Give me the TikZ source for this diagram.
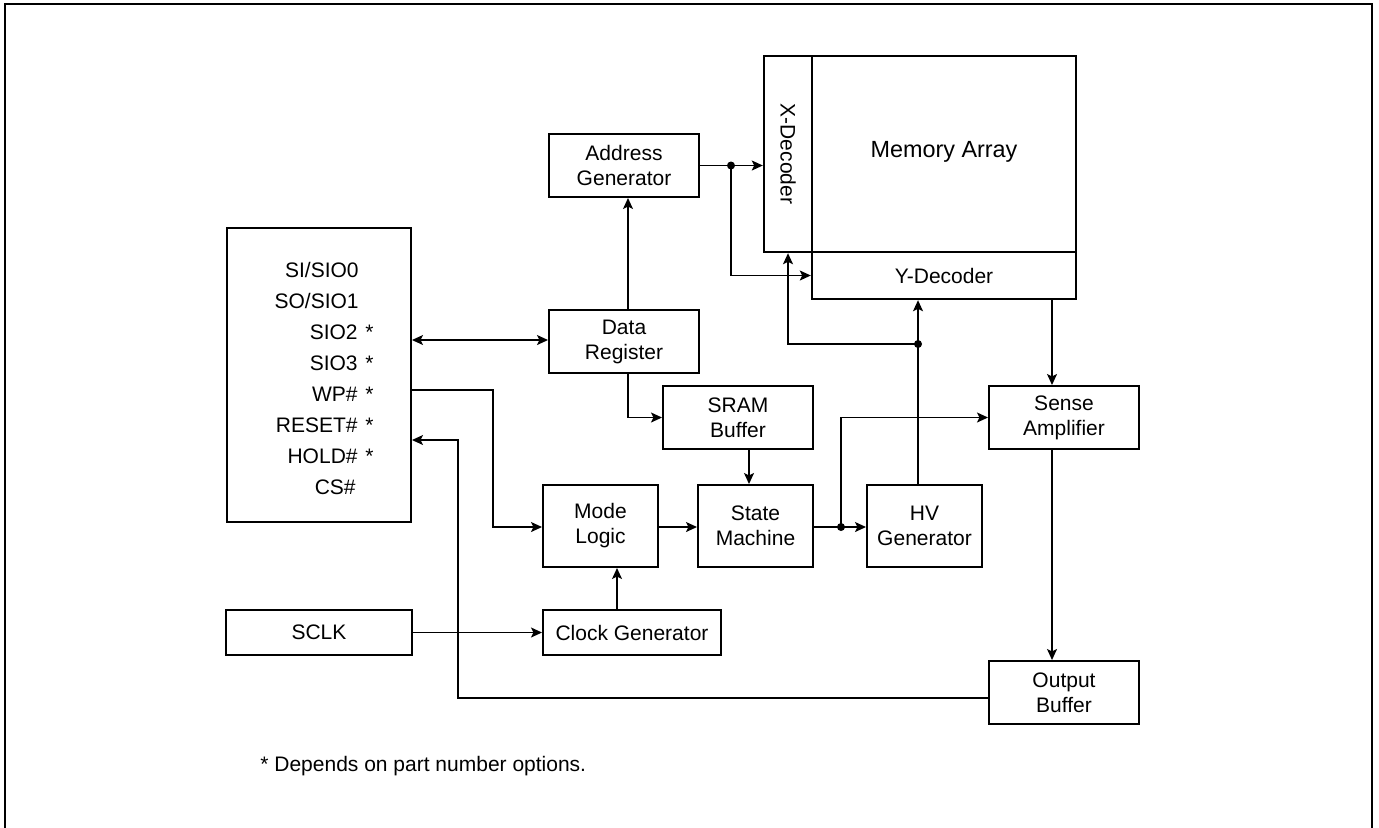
\documentclass[tikz,border=0pt]{standalone}
\usepackage{fontspec}
\setmainfont{Liberation Sans}
\usetikzlibrary{arrows.meta}
\tikzset{
  blk/.style={draw, line width=1pt, inner sep=0pt, align=center, font=\fontsize{10.5pt}{12.5pt}\selectfont},
  memblk/.style={draw, line width=1.2pt, inner sep=0pt, align=center, font=\fontsize{10.5pt}{12.5pt}\selectfont},
  tip/.style={},
  conn/.style={line width=0.7pt, -{Stealth[length=5.5pt,width=5pt,inset=1.2pt]}},
  conn2/.style={line width=0.7pt, {Stealth[length=5.5pt,width=5pt,inset=1.2pt]}-{Stealth[length=5.5pt,width=5pt,inset=1.2pt]}},
  pinlbl/.style={inner sep=0pt, anchor=base east, font=\fontsize{10.5pt}{12.5pt}\selectfont},
  starlbl/.style={inner sep=0pt, anchor=base west, font=\fontsize{10.5pt}{12.5pt}\selectfont},
  dotmark/.style={fill=black}
}
\begin{document}
\begin{tikzpicture}[x=0.5pt,y=-0.5pt]
\useasboundingbox (0,0) rectangle (1379,827);
\fill[white] (0,0) rectangle (1379,827);
% outer frame
\draw[line width=1.2pt] (5,840) -- (5,4) -- (1372,4) -- (1372,840);

% blocks
\node[blk, minimum width=75pt, minimum height=31.5pt] (AG) at (624,165.5) {Address\\Generator};
\node[memblk, minimum width=24pt, minimum height=98pt] (XD) at (788,154) {};
\node[rotate=-90, inner sep=0pt, font=\fontsize{10.5pt}{12.5pt}\selectfont] (XDt) at (XD.center) {X-Decoder};
\node[memblk, minimum width=132pt, minimum height=98pt] (MA) at (944,154) {};
\node[inner sep=0pt, font=\fontsize{11.7pt}{14pt}\selectfont] (MAt) at (944,152) {Memory Array};
\node[memblk, minimum width=132pt, minimum height=23.5pt] (YD) at (944,275.5) {Y-Decoder};
\node[blk, minimum width=92pt, minimum height=147pt] (PIN) at (319,375) {};
\node[blk, minimum width=75pt, minimum height=31.5pt] (DR) at (624,341.5) {Data\\Register};
\node[blk, minimum width=75pt, minimum height=31.5pt] (SRAM) at (738,417.5) {SRAM\\Buffer};
\node[blk, minimum width=75pt, minimum height=31.5pt] (SA) at (1064,417.5) {Sense\\Amplifier};
\node[blk, minimum width=57.5pt, minimum height=41pt] (ML) at (600.5,526) {Mode\\Logic};
\node[blk, minimum width=57.5pt, minimum height=41pt] (SM) at (755.5,526) {State\\Machine};
\node[blk, minimum width=57.5pt, minimum height=41pt] (HV) at (924.5,526) {HV\\Generator};
\node[blk, minimum width=93pt, minimum height=22.5pt] (SCLK) at (319,632.5) {SCLK};
\node[blk, minimum width=89pt, minimum height=22.5pt] (CG) at (632,632.5) {Clock Generator};
\node[blk, minimum width=75pt, minimum height=31.5pt] (OB) at (1064,692.5) {Output\\Buffer};

% pin labels
\node[pinlbl] (p1) at (359,277.5) {SI/SIO0};
\node[pinlbl] (p2) at (359,308.5) {SO/SIO1};
\node[pinlbl] (p3) at (358,339.5) {SIO2};
\node[pinlbl] (p4) at (358,370.5) {SIO3};
\node[pinlbl] (p5) at (358,401.5) {WP\#};
\node[pinlbl] (p6) at (358,432.5) {RESET\#};
\node[pinlbl] (p7) at (358,463.5) {HOLD\#};
\node[pinlbl] (p8) at (356,494.5) {CS\#};
\node[starlbl] (s3) at (p3.base east) {\,\,*};
\node[starlbl] (s4) at (p4.base east) {\,\,*};
\node[starlbl] (s5) at (p5.base east) {\,\,*};
\node[starlbl] (s6) at (p6.base east) {\,\,*};
\node[starlbl] (s7) at (p7.base east) {\,\,*};

% footnote
\node[starlbl] (fn) at (260,771) {* Depends on part number options.};

% helper coordinates
\coordinate (xDA) at (628,0);
\coordinate (xSS) at (749,0);
\coordinate (xHV) at (918,0);
\coordinate (xYS) at (1052,0);
\coordinate (xR) at (458,0);
\coordinate (yR) at (0,440);
\coordinate (yOB) at (0,698);
\coordinate (xWP) at (493,0);
\coordinate (yWP) at (0,390);
\coordinate (xCG) at (617,0);
\coordinate (ySIO) at (0,340);
\coordinate (jA) at (731,165.5);
\coordinate (jB) at (841,527);
\coordinate (jC) at (918,344);

% connectors
\draw[conn] (AG.east) -- (XD.west |- AG.east);
\draw[conn] (jA) |- (YD.west);
\draw[conn2] (PIN.east |- ySIO) -- (DR.west |- ySIO);
\draw[conn] (xDA |- DR.north) -- (xDA |- AG.south);
\draw[conn] (xDA |- DR.south) |- (SRAM.west);
\draw[conn] (xSS |- SRAM.south) -- (xSS |- SM.north);
\draw[conn] (ML.east |- jB) -- (SM.west |- jB);
\draw[conn] (SM.east |- jB) -- (HV.west |- jB);
\draw[conn] (jB) |- (SA.west);
\draw[conn] (xHV |- HV.north) -- (xHV |- YD.south);
\draw[conn] (jC) -| (XD.south);
\draw[conn] (xYS |- YD.south) -- (xYS |- SA.north);
\draw[conn] (xYS |- SA.south) -- (xYS |- OB.north);
\draw[conn] (OB.west |- yOB) -| (xR |- yR) -- (PIN.east |- yR);
\draw[conn] (PIN.east |- yWP) -| (xWP |- jB) -- (ML.west |- jB);
\draw[conn] (SCLK.east) -- (CG.west);
\draw[conn] (xCG |- CG.north) -- (xCG |- ML.south);

% junction dots
\fill[dotmark] (jA) circle (2pt);
\fill[dotmark] (jB) circle (2pt);
\fill[dotmark] (jC) circle (2pt);
\end{tikzpicture}
\end{document}
